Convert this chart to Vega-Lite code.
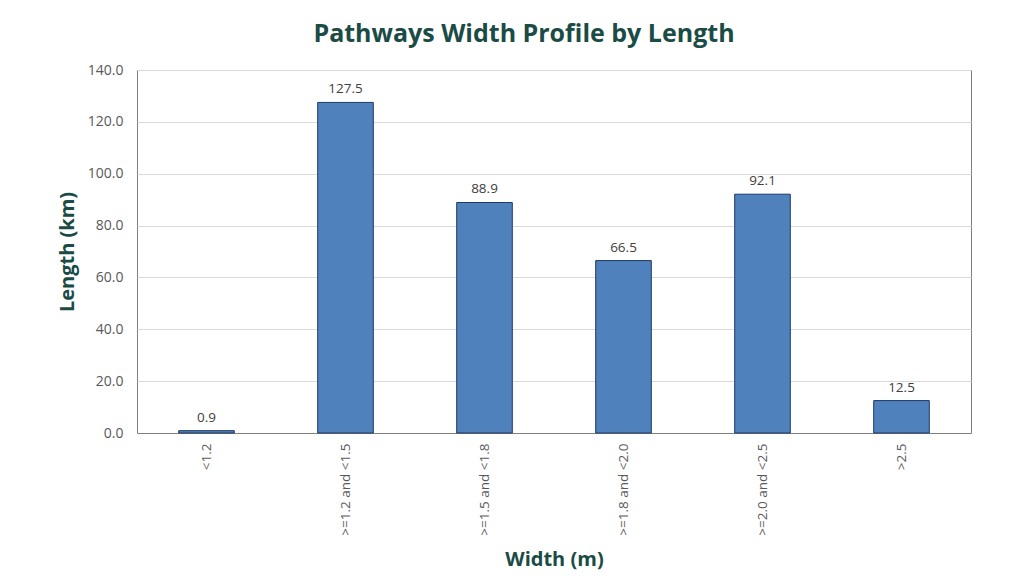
{
  "$schema": "https://vega.github.io/schema/vega-lite/v6.json",
  "autosize": {"type": "none"},
  "width": 834,
  "height": 363,
  "padding": {"left": 137, "top": 70, "right": 56, "bottom": 151},
  "background": "white",
  "title": {
    "text": "Pathways Width Profile by Length",
    "font": "Open Sans",
    "fontSize": 25,
    "fontWeight": "bold",
    "color": "#1b4b45",
    "anchor": "middle",
    "dx": -30,
    "offset": 16
  },
  "data": {
    "values": [
      {"width": "<1.2", "length": 0.9},
      {"width": ">=1.2 and <1.5", "length": 127.5},
      {"width": ">=1.5 and <1.8", "length": 88.9},
      {"width": ">=1.8 and <2.0", "length": 66.5},
      {"width": ">=2.0 and <2.5", "length": 92.1},
      {"width": ">2.5", "length": 12.5}
    ]
  },
  "encoding": {
    "x": {
      "field": "width",
      "type": "nominal",
      "sort": null,
      "scale": {"paddingInner": 0.6, "paddingOuter": 0.3},
      "axis": {
        "title": "Width (m)",
        "labelAngle": -90,
        "labelAlign": "right",
        "labelBaseline": "middle",
        "labelFont": "Open Sans",
        "labelFontSize": 13.5,
        "labelColor": "#595959",
        "labelPadding": 10,
        "ticks": false,
        "domainColor": "#7f7f7f",
        "titleFont": "Open Sans",
        "titleFontSize": 20,
        "titleFontWeight": "bold",
        "titleColor": "#1b4b45",
        "titlePadding": 14
      }
    },
    "y": {
      "field": "length",
      "type": "quantitative",
      "scale": {"domain": [0, 140]},
      "axis": {
        "title": "Length (km)",
        "values": [0, 20, 40, 60, 80, 100, 120, 140],
        "format": ".1f",
        "labelFont": "Open Sans",
        "labelFontSize": 14,
        "labelColor": "#595959",
        "labelPadding": 14,
        "ticks": false,
        "domain": false,
        "gridColor": "#d9d9d9",
        "titleFont": "Open Sans",
        "titleFontSize": 20,
        "titleFontWeight": "bold",
        "titleColor": "#1b4b45",
        "titlePadding": 10
      }
    }
  },
  "layer": [
    {
      "mark": {"type": "bar", "color": "#4f81bd", "stroke": "#1f3864", "strokeWidth": 1}
    },
    {
      "mark": {"type": "text", "baseline": "bottom", "dy": -6, "font": "Open Sans", "fontSize": 13.5, "color": "#404040"},
      "encoding": {"text": {"field": "length", "type": "quantitative", "format": ".1f"}}
    }
  ],
  "config": {
    "view": {"stroke": "#7f7f7f", "strokeWidth": 1}
  }
}
